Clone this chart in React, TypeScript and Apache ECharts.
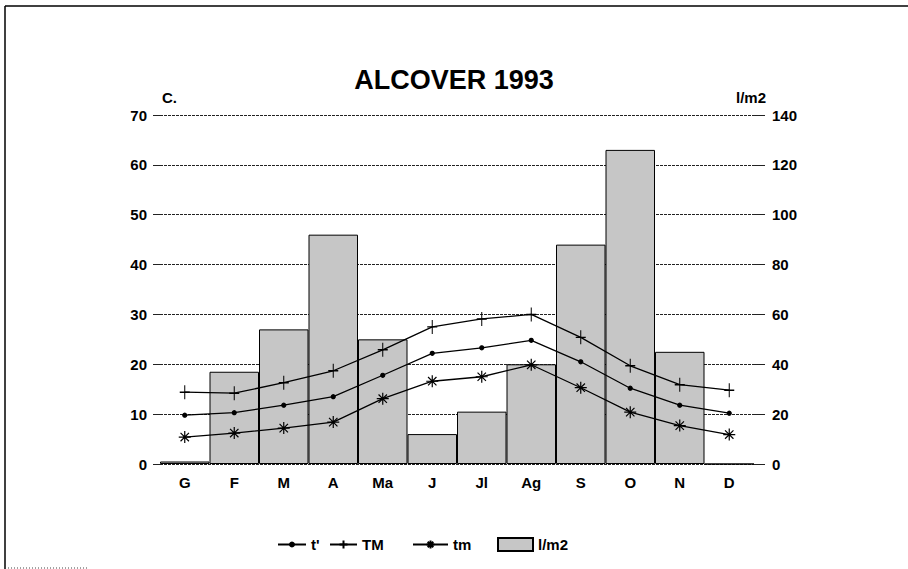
import React, { useEffect, useRef } from "react";
import * as echarts from "echarts";

const months = ["G", "F", "M", "A", "Ma", "J", "Jl", "Ag", "S", "O", "N", "D"];
const tMean = [9.8, 10.3, 11.8, 13.5, 17.8, 22.2, 23.3, 24.8, 20.5, 15.2, 11.8, 10.2];
const tMax = [14.4, 14.2, 16.3, 18.7, 22.9, 27.5, 29.1, 30.0, 25.4, 19.7, 15.9, 14.8];
const tMin = [5.4, 6.2, 7.2, 8.4, 13.1, 16.6, 17.5, 19.9, 15.3, 10.4, 7.7, 5.9];
const rain = [1, 37, 54, 92, 50, 12, 21, 40, 88, 126, 45, 0];
const leftTicks = { min: 0, max: 70, interval: 10 };
const rightTicks = { min: 0, max: 140, interval: 20 };

const FONT = "Liberation Sans";
const plusPath = "path://M5,0V14M0,7H10";
const starPath = "path://M0,6H12M6,0V12M1.8,1.8L10.2,10.2M10.2,1.8L1.8,10.2";

const labelStyle = { fontFamily: FONT, fontWeight: "bold" as const, fontSize: 15, color: "#000" };

export default function App() {
  const ref = useRef<HTMLDivElement>(null);
  useEffect(() => {
    if (!ref.current) return;
    const chart = echarts.init(ref.current, undefined, { renderer: "svg" });
    const lineCommon = {
      type: "line" as const,
      yAxisIndex: 0,
      lineStyle: { color: "#000", width: 1.3 },
      itemStyle: { color: "#000", borderColor: "#000", borderWidth: 1.2 },
      z: 3,
    };
    const legendBase = {
      itemGap: 0,
      textStyle: { fontFamily: FONT, fontWeight: "bold", fontSize: 15, color: "#000" },
    };
    chart.setOption({
      animation: false,
      backgroundColor: "#fff",
      textStyle: { fontFamily: FONT },
      title: {
        text: "ALCOVER 1993",
        left: "center",
        top: 61,
        textStyle: { fontFamily: FONT, fontWeight: "bold", fontSize: 27, color: "#000" },
      },
      legend: [
        { ...legendBase, left: 272, top: 532, itemWidth: 28, itemHeight: 5, data: ["t'"] },
        { ...legendBase, left: 324, top: 532, itemWidth: 27, itemHeight: 10, data: ["TM"] },
        { ...legendBase, left: 407, top: 532, itemWidth: 35, itemHeight: 10, data: ["tm"] },
        { ...legendBase, left: 492, top: 532, itemWidth: 35, itemHeight: 13, data: [{ name: "l/m2", icon: "rect" }] },
      ],
      grid: { left: 160, right: 154, top: 115, bottom: 105 },
      xAxis: {
        type: "category",
        data: months,
        boundaryGap: true,
        axisLine: { show: false },
        axisTick: { show: false },
        axisLabel: { ...labelStyle, margin: 11 },
      },
      yAxis: [
        {
          type: "value",
          ...leftTicks,
          position: "left",
          axisLine: { show: false },
          axisTick: { show: true, length: 7, lineStyle: { color: "#222" } },
          axisLabel: { ...labelStyle, margin: 13 },
          splitLine: { show: true, lineStyle: { color: "#222", type: [3, 1], width: 1 } },
        },
        {
          type: "value",
          ...rightTicks,
          position: "right",
          axisLine: { show: false },
          axisTick: { show: true, length: 11, lineStyle: { color: "#222" } },
          axisLabel: { ...labelStyle, margin: 18 },
          splitLine: { show: false },
        },
      ],
      series: [
        {
          name: "l/m2",
          type: "bar",
          yAxisIndex: 1,
          data: rain,
          barCategoryGap: "0%",
          itemStyle: { color: "#c6c6c6", borderColor: "#000", borderWidth: 1 },
          z: 2,
        },
        { ...lineCommon, name: "t'", data: tMean, symbol: "circle", symbolSize: 4 },
        { ...lineCommon, name: "TM", data: tMax, symbol: plusPath, symbolSize: [10, 14] },
        { ...lineCommon, name: "tm", data: tMin, symbol: starPath, symbolSize: 12 },
      ],
      graphic: [
        { type: "text", left: 162, top: 90, style: { text: "C.", fontFamily: FONT, fontWeight: "bold", fontSize: 15, fill: "#000" } },
        { type: "text", left: 736, top: 90, style: { text: "l/m2", fontFamily: FONT, fontWeight: "bold", fontSize: 15, fill: "#000" } },
        { type: "line", shape: { x1: 5, y1: 6, x2: 908, y2: 6 }, style: { stroke: "#000", lineWidth: 1.5 } },
        { type: "line", shape: { x1: 5, y1: 6, x2: 5, y2: 569 }, style: { stroke: "#000", lineWidth: 1.5 } },
        { type: "line", shape: { x1: 8, y1: 568, x2: 88, y2: 568 }, style: { stroke: "#444", lineWidth: 1, lineDash: [1, 2] } },
      ],
    });
    return () => chart.dispose();
  }, []);
  return (
    <div
      ref={ref}
      style={{ position: "absolute", left: 0, top: 0, width: 908, height: 569, background: "#fff" }}
    />
  );
}
